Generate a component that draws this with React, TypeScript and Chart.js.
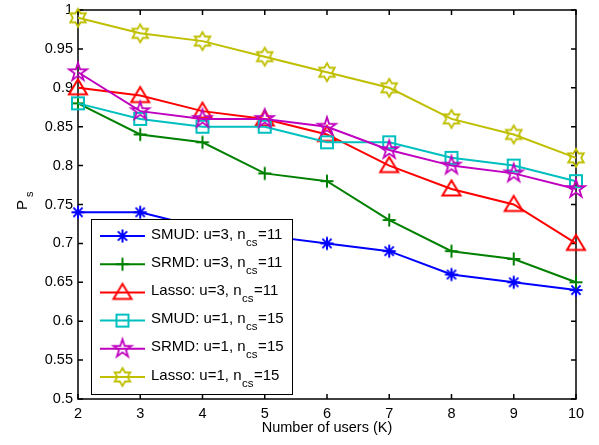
import React, { useEffect, useRef } from 'react';
import { Chart, registerables } from 'chart.js';

Chart.register(...registerables);

const categories = [2, 3, 4, 5, 6, 7, 8, 9, 10];
const smudU3 = [0.74, 0.74, 0.72, 0.71, 0.70, 0.69, 0.66, 0.65, 0.64];
const srmdU3 = [0.88, 0.84, 0.83, 0.79, 0.78, 0.73, 0.69, 0.68, 0.65];
const lassoU3 = [0.90, 0.89, 0.87, 0.86, 0.84, 0.80, 0.77, 0.75, 0.70];
const smudU1 = [0.88, 0.86, 0.85, 0.85, 0.83, 0.83, 0.81, 0.80, 0.78];
const srmdU1 = [0.92, 0.87, 0.86, 0.86, 0.85, 0.82, 0.80, 0.79, 0.77];
const lassoU1 = [0.99, 0.97, 0.96, 0.94, 0.92, 0.90, 0.86, 0.84, 0.81];

const yTicks = [0.5, 0.55, 0.6, 0.65, 0.7, 0.75, 0.8, 0.85, 0.9, 0.95, 1];
const xTicks = [2, 3, 4, 5, 6, 7, 8, 9, 10];

const legendMain = ['SMUD: u=3, n', 'SRMD: u=3, n', 'Lasso: u=3, n', 'SMUD: u=1, n', 'SRMD: u=1, n', 'Lasso: u=1, n'];
const legendSub = ['cs', 'cs', 'cs', 'cs', 'cs', 'cs'];
const legendEnd = ['=11', '=11', '=11', '=15', '=15', '=15'];

const xTitle = 'Number of users (K)';
const yTitle = 'P';
const yTitleSub = 's';

const seriesValues = [smudU3, srmdU3, lassoU3, smudU1, srmdU1, lassoU1];
const seriesColors = ['#0000ff', '#008000', '#ff0000', '#00bfbf', '#bf00bf', '#bfbf00'];
const seriesMarkers = ['asterisk', 'plus', 'triangle', 'square', 'pentagram', 'hexagram'];

const FONT = '"Liberation Sans", Arial, Helvetica, sans-serif';

function makeMarker(kind: string, color: string): HTMLCanvasElement {
  const S = 26;
  const c = document.createElement('canvas');
  c.width = S;
  c.height = S;
  const ctx = c.getContext('2d')!;
  const cx = S / 2, cy = S / 2;
  ctx.strokeStyle = color;
  ctx.lineJoin = 'miter';
  ctx.beginPath();
  if (kind === 'asterisk') {
    ctx.lineWidth = 2;
    const r = 6.5;
    for (let k = 0; k < 4; k++) {
      const a = (k * Math.PI) / 4;
      ctx.moveTo(cx - r * Math.cos(a), cy - r * Math.sin(a));
      ctx.lineTo(cx + r * Math.cos(a), cy + r * Math.sin(a));
    }
  } else if (kind === 'plus') {
    ctx.lineWidth = 2;
    const r = 6.5;
    ctx.moveTo(cx - r, cy); ctx.lineTo(cx + r, cy);
    ctx.moveTo(cx, cy - r); ctx.lineTo(cx, cy + r);
  } else if (kind === 'triangle') {
    ctx.lineWidth = 2;
    ctx.moveTo(cx, cy - 8.5);
    ctx.lineTo(cx + 9, cy + 6.5);
    ctx.lineTo(cx - 9, cy + 6.5);
    ctx.closePath();
  } else if (kind === 'square') {
    ctx.lineWidth = 2;
    ctx.rect(cx - 6, cy - 6, 12, 12);
  } else if (kind === 'pentagram' || kind === 'hexagram') {
    ctx.lineWidth = 1.8;
    const n = kind === 'pentagram' ? 5 : 6;
    const R = kind === 'pentagram' ? 9.5 : 9;
    const r = kind === 'pentagram' ? R * 0.382 : R * 0.577;
    for (let k = 0; k < 2 * n; k++) {
      const a = -Math.PI / 2 + (k * Math.PI) / n;
      const rr = k % 2 === 0 ? R : r;
      const px = cx + rr * Math.cos(a), py = cy + rr * Math.sin(a);
      if (k === 0) ctx.moveTo(px, py); else ctx.lineTo(px, py);
    }
    ctx.closePath();
  }
  ctx.stroke();
  return c;
}

export default function App() {
  const ref = useRef<HTMLCanvasElement | null>(null);

  useEffect(() => {
    if (!ref.current) return;
    const markers = seriesColors.map((col, i) => makeMarker(seriesMarkers[i], col));

    const framePlugin = {
      id: 'framePlugin',
      beforeDatasetsDraw(chart: any) {
        const { ctx, chartArea: a, scales } = chart;
        ctx.save();
        ctx.strokeStyle = '#000';
        ctx.lineWidth = 1.5;
        const tl = 5;
        ctx.beginPath();
        for (const v of xTicks) {
          const x = scales.x.getPixelForValue(v);
          ctx.moveTo(x, a.bottom); ctx.lineTo(x, a.bottom - tl);
          ctx.moveTo(x, a.top); ctx.lineTo(x, a.top + tl);
        }
        for (const v of yTicks) {
          const y = scales.y.getPixelForValue(v);
          ctx.moveTo(a.left, y); ctx.lineTo(a.left + tl, y);
          ctx.moveTo(a.right, y); ctx.lineTo(a.right - tl, y);
        }
        ctx.stroke();
        ctx.strokeRect(a.left, a.top, a.right - a.left, a.bottom - a.top);
        ctx.restore();
      },
      afterDraw(chart: any) {
        const { ctx, chartArea: a } = chart;
        ctx.save();
        // legend
        const lx0 = 91, ly0 = 219, lx1 = 292, ly1 = 394;
        ctx.fillStyle = '#fff';
        ctx.fillRect(lx0, ly0, lx1 - lx0, ly1 - ly0);
        ctx.strokeStyle = '#000';
        ctx.lineWidth = 1;
        ctx.strokeRect(lx0 + 0.5, ly0 + 0.5, lx1 - lx0, ly1 - ly0);
        for (let i = 0; i < legendMain.length; i++) {
          const y = 236 + i * 28.2;
          ctx.strokeStyle = seriesColors[i];
          ctx.lineWidth = 2;
          ctx.beginPath();
          ctx.moveTo(100, y); ctx.lineTo(145, y);
          ctx.stroke();
          const m = markers[i];
          ctx.drawImage(m, 122.5 - m.width / 2, y - m.height / 2);
          ctx.fillStyle = '#000';
          ctx.textBaseline = 'alphabetic';
          ctx.textAlign = 'left';
          ctx.font = `15px ${FONT}`;
          const bx = 151, by = y + 2.5;
          ctx.fillText(legendMain[i], bx, by);
          const w1 = ctx.measureText(legendMain[i]).width;
          ctx.font = `11.5px ${FONT}`;
          ctx.fillText(legendSub[i], bx + w1 + 0.5, by + 7);
          const w2 = ctx.measureText(legendSub[i]).width;
          ctx.font = `15px ${FONT}`;
          ctx.fillText(legendEnd[i], bx + w1 + w2 + 1, by);
        }
        // x title
        ctx.fillStyle = '#000';
        ctx.font = `14.5px ${FONT}`;
        ctx.textAlign = 'center';
        ctx.textBaseline = 'alphabetic';
        ctx.fillText(xTitle, (a.left + a.right) / 2, 432);
        // y title
        ctx.translate(26.5, 210);
        ctx.rotate(-Math.PI / 2);
        ctx.textAlign = 'left';
        ctx.font = `15px ${FONT}`;
        ctx.fillText(yTitle, 0, 0);
        const wp = ctx.measureText(yTitle).width;
        ctx.font = `11px ${FONT}`;
        ctx.fillText(yTitleSub, wp + 3, 6);
        ctx.restore();
      },
    };

    const datasets = seriesValues.map((vals, i) => ({
      label: legendMain[i] + legendSub[i] + legendEnd[i],
      data: categories.map((c, j) => ({ x: c, y: vals[j] })),
      borderColor: seriesColors[i],
      backgroundColor: seriesColors[i],
      borderWidth: 2,
      pointStyle: markers[i],
      pointRadius: 8,
      tension: 0,
      clip: false as any,
      order: seriesValues.length - 1 - i,
    }));

    const chart = new Chart(ref.current, {
      type: 'line',
      data: { datasets },
      plugins: [framePlugin],
      options: {
        animation: false,
        responsive: false,
        events: [],
        layout: { padding: { left: 0, right: 23, top: 5, bottom: 0 } },
        plugins: { legend: { display: false }, tooltip: { enabled: false }, title: { display: false } },
        scales: {
          x: {
            type: 'linear',
            min: 2,
            max: 10,
            grid: { display: false, drawTicks: false },
            border: { display: false },
            ticks: {
              padding: 6,
              color: '#000',
              font: { family: FONT, size: 14.5 },
              autoSkip: false,
              maxRotation: 0,
              callback: (v: any) => String(v),
            },
            afterBuildTicks: (s: any) => { s.ticks = xTicks.map((v) => ({ value: v })); },
            afterFit: (s: any) => {
              s.height = 46;
              s.paddingLeft = 0; s.paddingRight = 0; s.paddingTop = 0; s.paddingBottom = 0;
            },
          },
          y: {
            type: 'linear',
            min: 0.5,
            max: 1,
            grid: { display: false, drawTicks: false },
            border: { display: false },
            ticks: {
              padding: 5,
              color: '#000',
              font: { family: FONT, size: 14.5 },
              autoSkip: false,
              callback: (v: any) => String(Number(Number(v).toFixed(2))),
            },
            afterBuildTicks: (s: any) => { s.ticks = yTicks.map((v) => ({ value: v })); },
            afterFit: (s: any) => {
              s.width = 78;
              s.paddingLeft = 0; s.paddingRight = 0; s.paddingTop = 0; s.paddingBottom = 0;
            },
          },
        },
      },
    });
    return () => chart.destroy();
  }, []);

  return (
    <div style={{ position: 'fixed', left: 0, top: 0, width: 599, height: 445, background: '#fff' }}>
      <canvas ref={ref} width={599} height={445} style={{ display: 'block', width: 599, height: 445 }} />
    </div>
  );
}
